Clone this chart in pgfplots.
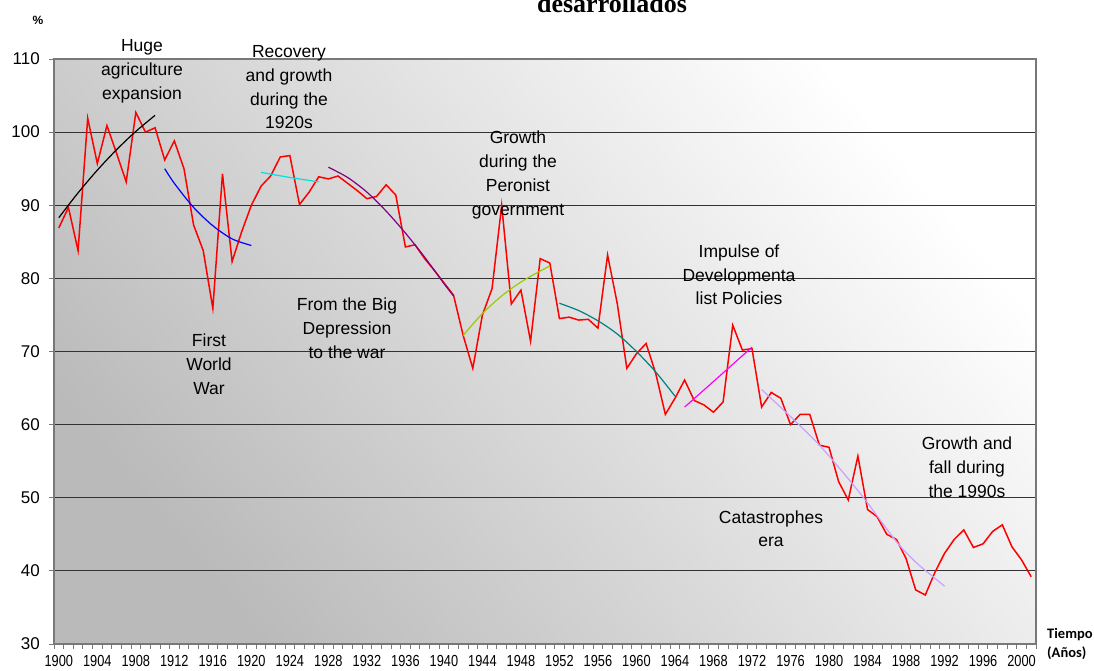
\documentclass[border=0pt]{standalone}
\usepackage{fontspec}
\setmainfont{Liberation Sans}
\newfontfamily\carlito{Carlito}
\newfontfamily\tnr{Liberation Serif}
\usepackage{graphicx}
\usepackage{pgfplots}
\usepackage{pgfplotstable}
\pgfplotsset{compat=1.18}

\definecolor{trcyan}{RGB}{0,225,230}
\definecolor{trpurple}{RGB}{128,0,128}
\definecolor{trgreen}{RGB}{153,204,0}
\definecolor{trteal}{RGB}{0,128,128}
\definecolor{trmag}{RGB}{255,0,255}
\definecolor{trlav}{RGB}{204,160,255}
\definecolor{framegray}{RGB}{120,120,120}
\definecolor{gridgray}{RGB}{50,50,50}

\pgfplotstableread{
year val
1900 86.9
1901 89.7
1902 83.8
1903 101.9
1904 95.7
1905 100.9
1906 97.1
1907 93.2
1908 102.7
1909 100.0
1910 100.6
1911 96.2
1912 98.8
1913 95.0
1914 87.3
1915 83.8
1916 75.9
1917 94.3
1918 82.3
1919 86.4
1920 90.0
1921 92.6
1922 94.0
1923 96.6
1924 96.8
1925 90.1
1926 91.8
1927 93.9
1928 93.6
1929 94.0
1930 93.0
1931 92.0
1932 90.9
1933 91.2
1934 92.8
1935 91.4
1936 84.3
1937 84.6
1938 82.7
1939 81.1
1940 79.4
1941 77.7
1942 72.2
1943 67.7
1944 75.0
1945 78.6
1946 90.0
1947 76.5
1948 78.4
1949 71.4
1950 82.7
1951 82.1
1952 74.5
1953 74.7
1954 74.3
1955 74.4
1956 73.2
1957 83.2
1958 76.6
1959 67.7
1960 69.7
1961 71.1
1962 67.0
1963 61.4
1964 63.6
1965 66.1
1966 63.3
1967 62.7
1968 61.7
1969 63.1
1970 73.6
1971 70.2
1972 70.4
1973 62.4
1974 64.4
1975 63.6
1976 60.0
1977 61.4
1978 61.4
1979 57.2
1980 56.9
1981 52.2
1982 49.7
1983 55.7
1984 48.4
1985 47.4
1986 45.0
1987 44.3
1988 41.7
1989 37.4
1990 36.7
1991 39.8
1992 42.4
1993 44.3
1994 45.6
1995 43.2
1996 43.7
1997 45.4
1998 46.3
1999 43.3
2000 41.5
2001 39.2
}\mainData

\newcommand{\annfont}{\fontsize{17.5bp}{21bp}\selectfont}
\newcommand{\ann}[3]{\node[font=\annfont, anchor=base, inner sep=0pt] at (#1bp,-#2bp) {#3};}

\begin{document}
\begin{tikzpicture}
\useasboundingbox (0,0) rectangle (1094bp,-671bp);
\begin{axis}[
  at={(54bp,-644bp)}, anchor=south west,
  width=982bp, height=585bp, scale only axis,
  xmin=1899.5, xmax=2001.5, ymin=30, ymax=110,
  /pgf/number format/assume math mode=true,
  ytick={30,40,...,110},
  xtick={1900,1904,...,2000},
  minor xtick={1899.5,1900.5,...,2001.5},
  xticklabel={\scalebox{0.8}[1]{\pgfmathprintnumber[1000 sep=,assume math mode=true]{\tick}}},
  tick pos=left,
  tick align=outside,
  major tick length=5bp,
  minor tick length=5bp,
  x tick style={draw=none},
  minor x tick style={draw=framegray, line width=0.8bp},
  y tick style={draw=framegray, line width=0.8bp},
  xticklabel style={font=\fontsize{16bp}{18bp}\selectfont, inner sep=0pt, yshift=-6bp},
  yticklabel style={font=\fontsize{17bp}{19bp}\selectfont, inner sep=0pt, xshift=-9bp},
  ymajorgrids,
  major grid style={draw=gridgray, line width=0.9bp},
  axis line style={draw=framegray, line width=1.4bp},
  axis background/.style={shading=axis, bottom color=black!27, top color=white, shading angle=-50},
  clip=false,
]
\addplot[red, line width=1.5bp] table[x=year, y=val]{\mainData};
\addplot[black, line width=1.2bp, smooth] coordinates {(1900,88.3) (1902,91.7) (1904,94.8) (1906,97.6) (1908,100.1) (1910,102.3)};
\addplot[blue, line width=1.2bp, smooth] coordinates {(1911,95.0) (1912,93.0) (1914,89.7) (1916,87.2) (1918,85.4) (1920,84.5)};
\addplot[trcyan, line width=1.2bp, smooth] coordinates {(1921,94.5) (1924,93.8) (1927,93.2)};
\addplot[trpurple, line width=1.2bp, smooth] coordinates {(1928,95.2) (1930,93.8) (1932,91.8) (1934,89.2) (1936,86.2) (1938,82.9) (1940,79.3) (1941,77.6)};
\addplot[trgreen, line width=1.2bp, smooth] coordinates {(1942,72.2) (1944,75.2) (1946,77.6) (1948,79.5) (1950,81.0) (1951,81.7)};
\addplot[trteal, line width=1.2bp, smooth] coordinates {(1952,76.6) (1954,75.6) (1956,74.2) (1958,72.4) (1960,70.0) (1962,67.2) (1964,63.9)};
\addplot[trmag, line width=1.2bp, smooth] coordinates {(1965,62.4) (1968,65.9) (1972,70.6)};
\addplot[trlav, line width=1.2bp, smooth] coordinates {(1973,64.8) (1976,61.1) (1979,57.2) (1982,52.6) (1984,49.3) (1987,44.0) (1989,41.2) (1991,39.0) (1992,37.9)};
\end{axis}

\node[font=\tnr\bfseries\fontsize{26bp}{28bp}\selectfont, anchor=base, inner sep=0pt] at (612bp,-12bp) {desarrollados};
\node[font=\bfseries\fontsize{12bp}{14bp}\selectfont, anchor=base, inner sep=0pt] at (38bp,-24bp) {\%};
\node[font=\carlito\bfseries\fontsize{14.5bp}{16bp}\selectfont, anchor=base west, inner sep=0pt] at (1047bp,-638bp) {Tiempo};
\node[font=\carlito\bfseries\fontsize{14.5bp}{16bp}\selectfont, anchor=base west, inner sep=0pt] at (1047bp,-657bp) {(Años)};

\ann{142}{51}{Huge}
\ann{142}{75}{agriculture}
\ann{142}{99}{expansion}
\ann{289}{57}{Recovery}
\ann{289}{81}{and growth}
\ann{289}{105}{during the}
\ann{289}{128}{1920s}
\ann{518}{143}{Growth}
\ann{518}{167}{during the}
\ann{518}{191}{Peronist}
\ann{518}{215}{government}
\ann{347}{310}{From the Big}
\ann{347}{334}{Depression}
\ann{347}{358}{to the war}
\ann{209}{346}{First}
\ann{209}{370}{World}
\ann{209}{394}{War}
\ann{739}{257}{Impulse of}
\ann{739}{281}{Developmenta}
\ann{739}{304}{list Policies}
\ann{771}{523}{Catastrophes}
\ann{771}{546}{era}
\ann{967}{449}{Growth and}
\ann{967}{473}{fall during}
\ann{967}{497}{the 1990s}
\end{tikzpicture}
\end{document}
